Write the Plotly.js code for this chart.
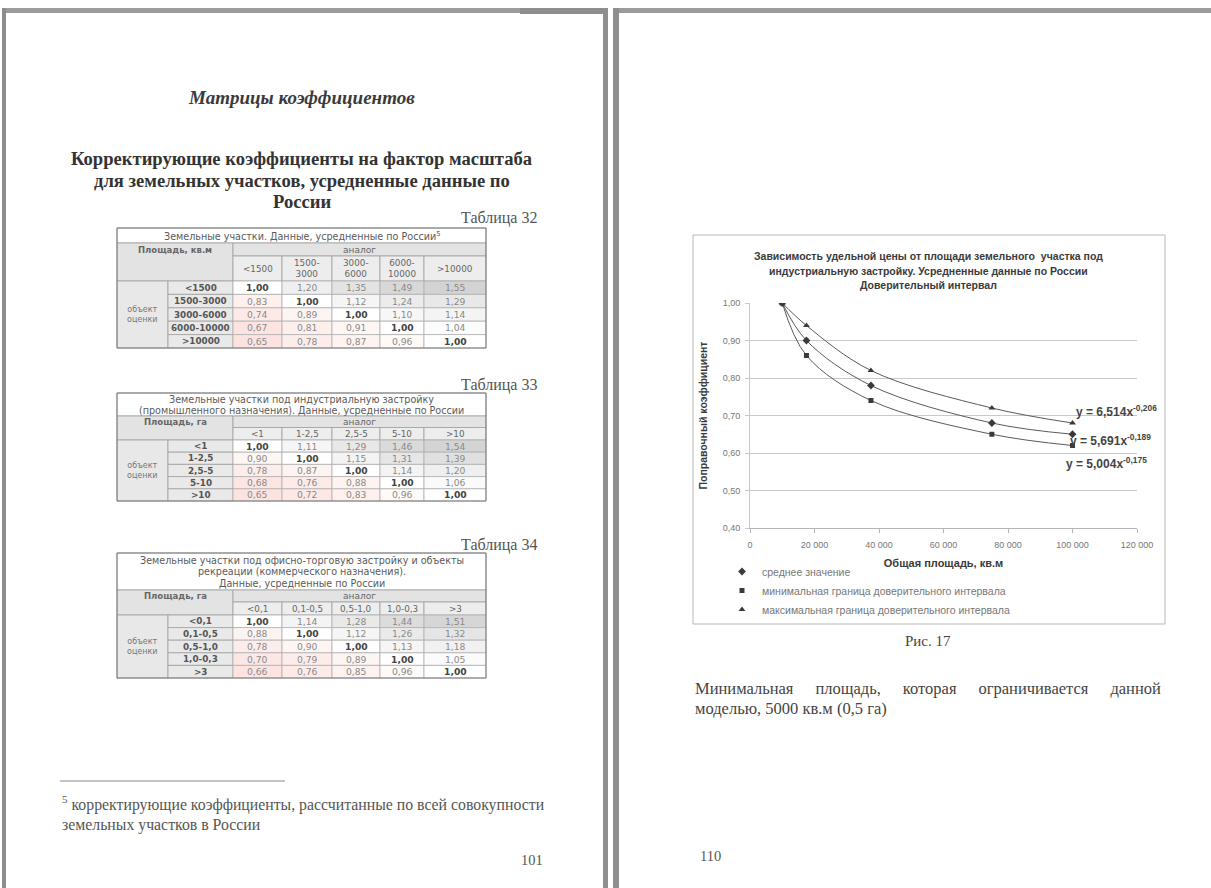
<!DOCTYPE html>
<html><head><meta charset="utf-8">
<script src="https://cdn.plot.ly/plotly-3.0.1.min.js"></script>
<style>html,body{margin:0;padding:0;background:#fff;overflow:hidden;} #page{width:1211px;height:888px;}</style>
</head><body><div id="page"></div>
<script>
// ================= DATA =================
// Chart (Рис. 17)
const areaX = [10000, 17500, 37500, 75000, 100000];
const meanY = [1.00, 0.90, 0.78, 0.68, 0.65];
const minY  = [1.00, 0.86, 0.74, 0.65, 0.62];
const maxY  = [1.00, 0.94, 0.82, 0.72, 0.68];
const seriesNames = ['среднее значение',
  'минимальная граница доверительного интервала',
  'максимальная граница доверительного интервала'];
const equations = ['y = 6,514x<sup>-0,206</sup>', 'y = 5,691x<sup>-0,189</sup>', 'y = 5,004x<sup>-0,175</sup>'];
const xTickVals = [0, 20000, 40000, 60000, 80000, 100000, 120000];
const yTickVals = [0.40, 0.50, 0.60, 0.70, 0.80, 0.90, 1.00];
const chartTitle = ['Зависимость удельной цены от площади земельного  участка под',
  'индустриальную застройку. Усредненные данные по России',
  'Доверительный интервал'];
const xTitle = 'Общая площадь, кв.м';
const yTitle = 'Поправочный коэффициент';

// Table 32
const t32Title = ['Земельные участки. Данные, усредненные по России<sup>5</sup>'];
const t32Area = 'Площадь, кв.м';
const t32Heads = ['<1500', '1500-<br>3000', '3000-<br>6000', '6000-<br>10000', '>10000'];
const t32Rows = ['<1500', '1500-3000', '3000-6000', '6000-10000', '>10000'];
const t32Vals = [
  [1.00, 1.20, 1.35, 1.49, 1.55],
  [0.83, 1.00, 1.12, 1.24, 1.29],
  [0.74, 0.89, 1.00, 1.10, 1.14],
  [0.67, 0.81, 0.91, 1.00, 1.04],
  [0.65, 0.78, 0.87, 0.96, 1.00]];

// Table 33
const t33Title = ['Земельные участки под индустриальную застройку',
  '(промышленного назначения). Данные, усредненные по России'];
const t33Area = 'Площадь, га';
const t33Heads = ['<1', '1-2,5', '2,5-5', '5-10', '>10'];
const t33Rows = ['<1', '1-2,5', '2,5-5', '5-10', '>10'];
const t33Vals = [
  [1.00, 1.11, 1.29, 1.46, 1.54],
  [0.90, 1.00, 1.15, 1.31, 1.39],
  [0.78, 0.87, 1.00, 1.14, 1.20],
  [0.68, 0.76, 0.88, 1.00, 1.06],
  [0.65, 0.72, 0.83, 0.96, 1.00]];

// Table 34
const t34Title = ['Земельные участки под офисно-торговую застройку и объекты',
  'рекреации (коммерческого назначения).',
  'Данные, усредненные по России'];
const t34Area = 'Площадь, га';
const t34Heads = ['<0,1', '0,1-0,5', '0,5-1,0', '1,0-0,3', '>3'];
const t34Rows = ['<0,1', '0,1-0,5', '0,5-1,0', '1,0-0,3', '>3'];
const t34Vals = [
  [1.00, 1.14, 1.28, 1.44, 1.51],
  [0.88, 1.00, 1.12, 1.26, 1.32],
  [0.78, 0.90, 1.00, 1.13, 1.18],
  [0.70, 0.79, 0.89, 1.00, 1.05],
  [0.66, 0.76, 0.85, 0.96, 1.00]];
const groupLabel = 'объект<br>оценки';
const analogLabel = 'аналог';

// ================= LAYOUT HELPERS =================
const W = 1211, H = 888;
const SERIF = 'Liberation Serif, Times New Roman, serif';
const SANS = 'Liberation Sans, Arial, sans-serif';
const TSANS = 'DejaVu Sans, Verdana, sans-serif';
const shapes = [];
const annotations = [];
function esc(s){ return s.replace(/<(?![\/a-z])/g,'&lt;').replace(/(^|[^a-z"\/])>/g,'$1&gt;'); }
function rect(x0,y0,x1,y1,fill,lc,lw){
  shapes.push({type:'rect', xref:'x2', yref:'y2', x0:x0, y0:y0, x1:x1, y1:y1,
    fillcolor: fill||'rgba(0,0,0,0)', line:{color: lc||'rgba(0,0,0,0)', width: lw===undefined?0:lw}, layer:'below'});
}
function hline(x0,x1,y,c,w){ shapes.push({type:'line', xref:'x2', yref:'y2', x0:x0,x1:x1,y0:y,y1:y, line:{color:c,width:w}}); }
function txt(x,y,text,o){
  o=o||{};
  annotations.push({xref:'x2', yref:'y2', x:x, y:y, text:text, showarrow:false,
    xanchor:o.xa||'center', yanchor:o.ya||'middle', align:o.align||'center', textangle:o.angle||0,
    font:{family:o.family||SANS, size:o.size||8, color:o.color||'#555'}});
}

// ---- page frame ----
rect(2,8,6,888,'#8c8c8c');
rect(6,8,606,13,'#9b9b9b');
rect(520,8,606,14,'#8e8e8e');
rect(603,8,608,888,'#8f8f8f');
rect(613,8,619,888,'#8f8f8f');
rect(619,8,1211,13,'#9b9b9b');

// ---- left page texts ----
txt(301,97,'<b><i>Матрицы коэффициентов</i></b>',{family:SERIF,size:19,color:'#3a3a3a'});
txt(302,158,'<b>Корректирующие коэффициенты на фактор масштаба</b>',{family:SERIF,size:18.6,color:'#333'});
txt(302,180,'<b>для земельных участков, усредненные данные по</b>',{family:SERIF,size:18.6,color:'#333'});
txt(302,201,'<b>России</b>',{family:SERIF,size:18.6,color:'#333'});
txt(539,218,'Таблица 32',{family:SERIF,size:16,color:'#555',xa:'right'});
txt(539,385,'Таблица 33',{family:SERIF,size:16,color:'#555',xa:'right'});
txt(539,545,'Таблица 34',{family:SERIF,size:16,color:'#555',xa:'right'});
hline(60,285,781,'#8a8a8a',1.2);
txt(60,803,'<sup>5</sup> корректирующие коэффициенты, рассчитанные по всей совокупности',{family:SERIF,size:15.8,color:'#555',xa:'left'});
txt(60,825,'земельных участков в России',{family:SERIF,size:15.8,color:'#555',xa:'left'});
txt(545,860,'101',{family:SERIF,size:14.5,color:'#555',xa:'right'});

// ---- right page texts ----
rect(693,235,1165,624,'rgba(0,0,0,0)','#b8b8b8',1);
chartTitle.forEach((t,i)=>txt(928,256+i*14.5,'<b>'+t+'</b>',{size:10.5,color:'#3a3a3a'}));
txt(928,641,'Рис. 17',{family:SERIF,size:15,color:'#444'});
const sp='\u00a0\u00a0\u00a0\u00a0\u00a0\u200a';
txt(693,688,['Минимальная','площадь,','которая','ограничивается','данной'].join(sp),{family:SERIF,size:16.5,color:'#444',xa:'left'});
txt(693,708,'моделью, 5000 кв.м (0,5 га)',{family:SERIF,size:16.5,color:'#444',xa:'left'});
txt(698,856,'110',{family:SERIF,size:14.5,color:'#555',xa:'left'});
// trendline equations
txt(1074,411,'<b>'+equations[0]+'</b>',{size:12,color:'#444',xa:'left'});
txt(1068,440,'<b>'+equations[1]+'</b>',{size:12,color:'#444',xa:'left'});
txt(1064,463,'<b>'+equations[2]+'</b>',{size:12,color:'#444',xa:'left'});

// ---- tables ----
const colEdges = [117,168,233,282,332,380,424,486];
function fmt(v){ return v.toFixed(2).replace('.',','); }
function valueFill(v){
  if(v>1.001){ const g=Math.round(255-(v-1)*80); return 'rgb('+g+','+g+','+g+')'; }
  if(v<0.999){ const d=(1-v)*75; return 'rgb(253,'+Math.round(253-d)+','+Math.round(250-d)+')'; }
  return '#ffffff';
}
function addTable(t){
  const L=colEdges[0], R=colEdges[7], C2=colEdges[2];
  let y=t.top;
  rect(L,y,R,y+t.hTitle,'#ffffff','#a0a0a0',0.8);
  const n0=t.title.length, y0t=y+t.hTitle/2-(n0-1)*t.pitch/2;
  t.title.forEach((line,i)=>txt((L+R)/2,y0t+i*t.pitch,line,{family:TSANS,size:t.fs,color:'#5a5a5a'}));
  y+=t.hTitle;
  rect(L,y,C2,y+t.hHead+t.hSub,'#e3e3e3','#a0a0a0',0.8);
  txt((L+C2)/2,y+t.hHead/2,'<b>'+t.area+'</b>',{family:TSANS,size:8.5,color:'#666'});
  rect(C2,y,R,y+t.hHead,'#e3e3e3','#a0a0a0',0.8);
  txt((C2+R)/2,y+t.hHead/2,analogLabel,{family:TSANS,size:9,color:'#666'});
  y+=t.hHead;
  t.heads.forEach((h,j)=>{
    rect(colEdges[2+j],y,colEdges[3+j],y+t.hSub,'#ededed','#a0a0a0',0.8);
    txt((colEdges[2+j]+colEdges[3+j])/2,y+t.hSub/2,esc(h),{family:TSANS,size:8.8,color:'#666'});
  });
  y+=t.hSub;
  const yD=y, n=t.rows.length;
  rect(L,yD,colEdges[1],yD+n*t.hRow,'#e8e8e8','#a0a0a0',0.8);
  txt((L+colEdges[1])/2,yD+n*t.hRow/2,groupLabel,{family:TSANS,size:8,color:'#777'});
  t.rows.forEach((r,i)=>{
    const y0=yD+i*t.hRow, y1=y0+t.hRow;
    rect(colEdges[1],y0,colEdges[2],y1,'#e9e9e9','#a0a0a0',0.8);
    txt((colEdges[1]+colEdges[2])/2,(y0+y1)/2,'<b>'+esc(r)+'</b>',{family:TSANS,size:8.8,color:'#555'});
    t.vals[i].forEach((v,j)=>{
      rect(colEdges[2+j],y0,colEdges[3+j],y1,valueFill(v),'#b0b0b0',0.8);
      const s = i===j ? '<b>'+fmt(v)+'</b>' : fmt(v);
      txt((colEdges[2+j]+colEdges[3+j])/2,(y0+y1)/2,s,{family:TSANS,size:9.2,color: i===j?'#444':'#8a8a8a'});
    });
  });
  rect(L,t.top,R,yD+n*t.hRow,'rgba(0,0,0,0)','#7a7a7a',1);
}
addTable({top:228,hTitle:15,hHead:13,hSub:25,hRow:13.4,pitch:11,fs:9.6,title:t32Title,area:t32Area,heads:t32Heads,rows:t32Rows,vals:t32Vals});
addTable({top:393,hTitle:23,hHead:11.5,hSub:12.5,hRow:12.2,pitch:11,fs:9.6,title:t33Title,area:t33Area,heads:t33Heads,rows:t33Rows,vals:t33Vals});
addTable({top:553,hTitle:37,hHead:12,hSub:13,hRow:12.6,pitch:11.5,fs:9.6,title:t34Title,area:t34Area,heads:t34Heads,rows:t34Rows,vals:t34Vals});

// ================= TRACES =================
const markerSym = ['diamond','square','triangle-up'];
const series = [meanY, minY, maxY];
const traces = [];
series.forEach((ys,k)=>{
  traces.push({type:'scatter', mode:'lines', x:areaX, y:ys, xaxis:'x', yaxis:'y',
    line:{shape:'spline', smoothing:1, color:'#5a5a5a', width:1}, showlegend:false, hoverinfo:'skip'});
});
series.forEach((ys,k)=>{
  traces.push({type:'scatter', mode:'markers', x:areaX, y:ys, xaxis:'x', yaxis:'y', name:seriesNames[k],
    marker:{symbol:markerSym[k], size: k===1?5:6, color:'#3a3a3a'}, showlegend:true});
});
traces.push({type:'scatter', x:[], y:[], xaxis:'x2', yaxis:'y2', showlegend:false, hoverinfo:'skip'});

const layout = {
  width:W, height:H, margin:{l:0,r:0,t:0,b:0},
  paper_bgcolor:'#ffffff', plot_bgcolor:'rgba(0,0,0,0)',
  separators:', ', showlegend:true, hovermode:false,
  font:{family:SANS},
  xaxis:{domain:[750/W,1137/W], range:[0,120000], tickvals:xTickVals, tickformat:',.0f',
    showgrid:false, zeroline:false, showline:true, linecolor:'#b5b5b5', linewidth:1,
    ticks:'outside', ticklen:4, tickcolor:'#b5b5b5', tickfont:{size:9,color:'#777'}, ticklabelstandoff:4,
    title:{text:'<b>'+xTitle+'</b>', font:{size:11,color:'#3a3a3a'}, standoff:10}, anchor:'y', fixedrange:true},
  yaxis:{domain:[1-528/H,1-303/H], range:[0.4,1.0], tickvals:yTickVals, tickformat:'.2f',
    showgrid:true, gridcolor:'#c9c9c9', gridwidth:1, zeroline:false, showline:true, linecolor:'#c9c9c9',
    ticks:'outside', ticklen:4, tickcolor:'#c9c9c9', tickfont:{size:9,color:'#777'}, ticklabelstandoff:3,
    title:{text:'<b>'+yTitle+'</b>', font:{size:10.5,color:'#3a3a3a'}, standoff:12}, anchor:'x', fixedrange:true},
  xaxis2:{domain:[0,1], range:[0,W], visible:false, anchor:'y2', fixedrange:true},
  yaxis2:{domain:[0,1], range:[H,0], visible:false, anchor:'x2', fixedrange:true},
  legend:{x:722/W, y:1-557/H, xanchor:'left', yanchor:'top', font:{size:10.5,color:'#777'},
    bgcolor:'rgba(0,0,0,0)', itemwidth:30, tracegroupgap:0},
  shapes:shapes, annotations:annotations
};
Plotly.newPlot('page', traces, layout, {staticPlot:true, displayModeBar:false});
</script></body></html>
